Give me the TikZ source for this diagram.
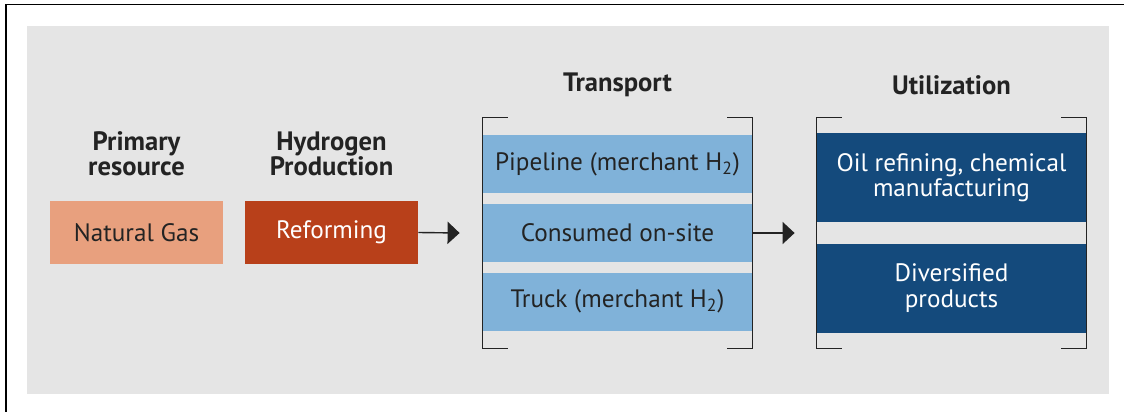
\documentclass[tikz,border=0pt]{standalone}
\usepackage{fontspec}
\setmainfont{PT Sans}
\usetikzlibrary{arrows.meta}

\definecolor{panelgray}{RGB}{229,229,229}
\definecolor{gasorange}{RGB}{232,160,126}
\definecolor{reformred}{RGB}{184,64,26}
\definecolor{transblue}{RGB}{128,178,217}
\definecolor{useblue}{RGB}{20,74,124}
\definecolor{inkgray}{RGB}{35,35,35}

\tikzset{
  stage/.style={inner sep=0pt, align=center, text=inkgray,
    font=\fontsize{12.6}{12.6}\selectfont},
  head/.style={align=center, text=inkgray,
    font=\bfseries\fontsize{13.3}{12.6}\selectfont},
  bracket/.style={draw=inkgray, line width=0.8pt},
  flow/.style={draw=inkgray, line width=0.7pt,
    -{Triangle[length=6pt,width=11pt]}},
}

\begin{document}
\begin{tikzpicture}[x=0.5pt, y=-0.5pt]
        \useasboundingbox (0,0) rectangle (1124,412);
        % frame and panel
        \draw[line width=0.8pt] (6,412) -- (6,4.5) -- (1124,4.5);
        \fill[panelgray] (27,26) rectangle (1109,394);

        % headings
        \node[head] (hprim)  at (136.5,154) {Primary\\resource};
        \node[head] (hprod)  at (331.5,154) {Hydrogen\\Production};
        \node[head] (htrans) at (617.5,85)  {Transport};
        \node[head] (huse)   at (951.5,85)  {Utilization};

        % first two stages
        \node[stage, fill=gasorange, minimum width=86.5pt, minimum height=31.5pt]
             (gas) at (136.5,232.5) {Natural Gas};
        \node[stage, fill=reformred, text=white, minimum width=86.5pt, minimum height=31.5pt]
             (reform) at (331.5,232.5) {Reforming};

        % transport options
        \node[minimum width=134.5pt, minimum height=115pt, inner sep=0pt] (trans) at (617.5,233) {};
        \node[stage, fill=transblue, minimum width=134.5pt, minimum height=29pt]
             (pipe) at (617.5,164) {Pipeline (merchant H\textsubscript{2})};
        \node[stage, fill=transblue, minimum width=134.5pt, minimum height=29pt]
             (site) at (617.5,233) {Consumed on-site};
        \node[stage, fill=transblue, minimum width=134.5pt, minimum height=29pt]
             (truck) at (617.5,301.5) {Truck (merchant H\textsubscript{2})};
        \draw[bracket] ([xshift=12.5pt]trans.north west) -- (trans.north west) -- (trans.south west) -- ++(12.5pt,0);
        \draw[bracket] ([xshift=-12.5pt]trans.north east) -- (trans.north east) -- (trans.south east) -- ++(-12.5pt,0);

        % end uses
        \node[minimum width=134.5pt, minimum height=115pt, inner sep=0pt] (use) at (951.5,233) {};
        \node[stage, fill=useblue, text=white, minimum width=134.5pt, minimum height=44.5pt]
             (refine) at (951.5,177.5) {Oil refining, chemical\\manufacturing};
        \node[stage, fill=useblue, text=white, minimum width=134.5pt, minimum height=44.5pt]
             (divers) at (951.5,288) {Diversified\\products};
        \draw[bracket] ([xshift=12.5pt]use.north west) -- (use.north west) -- (use.south west) -- ++(12.5pt,0);
        \draw[bracket] ([xshift=-12.5pt]use.north east) -- (use.north east) -- (use.south east) -- ++(-12.5pt,0);

        % flow arrows
        \draw[flow] (reform.east) -- ([xshift=-11.5pt]trans.west);
        \draw[flow] (trans.east) -- ([xshift=-11pt]use.west);
\end{tikzpicture}
\end{document}
